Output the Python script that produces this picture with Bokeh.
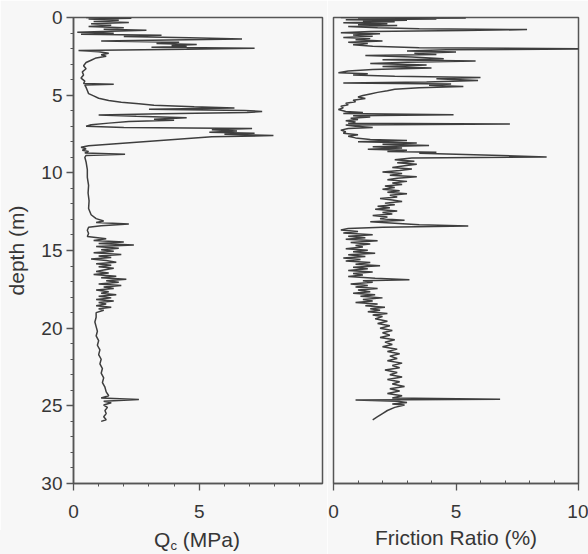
from bokeh.plotting import figure
from bokeh.models import Range1d, FixedTicker, Div
from bokeh.layouts import row, column
from bokeh.embed import file_html
from bokeh.resources import INLINE

# ---------------- data ----------------
qc_depth = [
    0.00, 0.05, 0.10, 0.18, 0.25, 0.32, 0.40, 0.50, 0.58, 0.66,
    0.75, 0.82, 0.88, 0.95, 1.02, 1.08, 1.15, 1.22, 1.30, 1.38,
    1.45, 1.52, 1.60, 1.68, 1.74, 1.80, 1.86, 1.92, 1.98, 2.05,
    2.12, 2.20, 2.30, 2.40, 2.50, 2.60, 2.75, 2.90, 3.10, 3.30,
    3.50, 3.70, 3.90, 4.10, 4.25, 4.30, 4.35, 4.50, 4.70, 4.90,
    5.05, 5.20, 5.35, 5.45, 5.55, 5.65, 5.75, 5.82, 5.90, 5.98,
    6.05, 6.12, 6.20, 6.28, 6.36, 6.45, 6.55, 6.62, 6.70, 6.80,
    6.90, 7.00, 7.08, 7.15, 7.22, 7.30, 7.38, 7.45, 7.52, 7.60,
    7.68, 8.25, 8.35, 8.45, 8.55, 8.62, 8.72, 8.80, 8.88, 9.00,
    9.30, 9.80, 10.3, 10.8, 11.3, 11.8, 12.3, 12.7, 12.95, 13.1,
    13.2, 13.3, 13.4, 13.5, 13.7, 13.9, 14.1, 14.25, 14.35, 14.45,
    14.55, 14.65, 14.75, 14.85, 14.95, 15.05, 15.15, 15.25, 15.35, 15.45,
    15.55, 15.65, 15.75, 15.85, 15.95, 16.05, 16.15, 16.25, 16.35, 16.45,
    16.55, 16.65, 16.75, 16.85, 16.95, 17.05, 17.15, 17.25, 17.35, 17.45,
    17.55, 17.65, 17.75, 17.85, 17.95, 18.05, 18.15, 18.25, 18.35, 18.45,
    18.55, 18.65, 18.75, 18.85, 19.0, 19.3, 19.6, 19.9, 20.2, 20.5,
    20.8, 21.1, 21.4, 21.7, 22.0, 22.3, 22.6, 22.9, 23.2, 23.5,
    23.8, 24.1, 24.35, 24.5, 24.6, 24.7, 24.8, 24.95, 25.1, 25.3,
    25.5, 25.7, 25.9, 26.0]
qc_value = [
    0.5, 2.3, 0.6, 1.8, 0.8, 2.2, 0.7, 1.5, 0.6, 2.0,
    1.2, 2.9, 1.5, 0.15, 1.6, 0.3, 3.5, 2.0, 4.6, 6.7,
    3.8, 1.1, 4.2, 3.3, 4.9, 3.9, 4.5, 3.1, 7.2, 4.5,
    0.2, 1.0, 1.4, 1.1, 1.3, 0.9, 0.7, 0.5, 0.4, 0.5,
    0.35, 0.4, 0.3, 0.45, 0.4, 1.6, 0.45, 0.5, 0.55, 0.6,
    0.8, 1.0, 1.4, 1.9, 2.6, 3.2, 4.8, 6.4, 3.0, 6.8,
    7.5, 6.9, 3.5, 1.0, 2.5, 4.5, 3.2, 4.0, 2.2, 1.4,
    0.7, 0.5, 2.0, 7.1, 5.5, 6.5, 5.4, 7.2, 6.0, 7.95,
    5.5, 0.6, 0.3, 0.5, 0.35, 0.6, 0.45, 2.05, 0.5, 0.45,
    0.5, 0.55, 0.55, 0.6, 0.58, 0.62, 0.6, 0.7, 0.9, 1.2,
    0.9, 2.2, 1.1, 0.6, 0.55, 0.6, 0.55, 1.3, 0.8, 2.0,
    1.0, 2.4, 0.9, 1.8, 1.1, 1.6, 0.8, 1.9, 1.0, 1.5,
    0.7, 1.3, 1.7, 0.9, 1.5, 1.0, 1.6, 1.2, 0.9, 1.4,
    0.8, 1.7, 1.1, 2.1, 1.3, 1.8, 1.0, 1.9, 1.2, 1.6,
    0.9, 1.4, 1.1, 1.7, 1.0, 1.5, 0.9, 1.6, 1.0, 1.3,
    0.9, 1.5, 1.0, 1.2, 0.9, 0.9, 0.85, 0.9, 0.95, 0.9,
    1.0, 0.95, 1.05, 1.0, 1.1, 1.05, 1.15, 1.1, 1.2, 1.15,
    1.25, 1.3, 1.4, 1.1, 2.6, 1.2, 1.5, 1.2, 1.35, 1.25,
    1.3, 1.2, 1.3, 1.1]

fr_depth = [
    0.00, 0.03, 0.06, 0.10, 0.14, 0.18, 0.22, 0.28, 0.33, 0.40,
    0.46, 0.52, 0.58, 0.66, 0.72, 0.78, 0.84, 0.90, 0.98, 1.05,
    1.12, 1.20, 1.28, 1.36, 1.44, 1.52, 1.60, 1.68, 1.76, 1.85,
    1.95, 2.02, 2.08, 2.15, 2.22, 2.30, 2.38, 2.45, 2.55, 2.65,
    2.72, 2.80, 2.88, 2.96, 3.05, 3.15, 3.25, 3.35, 3.45, 3.55,
    3.62, 3.70, 3.78, 3.86, 3.95, 4.05, 4.15, 4.22, 4.28, 4.36,
    4.44, 4.52, 4.62, 4.72, 4.82, 4.92, 5.02, 5.12, 5.22, 5.32,
    5.42, 5.52, 5.62, 5.72, 5.82, 5.92, 6.05, 6.12, 6.18, 6.26,
    6.32, 6.40, 6.48, 6.56, 6.64, 6.72, 6.80, 6.86, 6.92, 7.00,
    7.08, 7.15, 7.25, 7.35, 7.45, 7.55, 7.65, 7.75, 7.85, 7.92,
    8.00, 8.08, 8.16, 8.24, 8.32, 8.40, 8.48, 8.55, 8.62, 8.68,
    8.74, 8.80, 8.98, 9.05, 9.15, 9.25, 9.35, 9.45, 9.55, 9.65,
    9.75, 9.85, 9.95, 10.05, 10.15, 10.25, 10.35, 10.45, 10.55, 10.65,
    10.75, 10.85, 10.95, 11.05, 11.15, 11.25, 11.35, 11.45, 11.55, 11.65,
    11.75, 11.85, 11.95, 12.05, 12.15, 12.25, 12.35, 12.45, 12.55, 12.65,
    12.75, 12.85, 12.95, 13.05, 13.15, 13.25, 13.35, 13.42, 13.50, 13.58,
    13.68, 13.78, 13.88, 13.98, 14.08, 14.18, 14.28, 14.38, 14.48, 14.58,
    14.68, 14.78, 14.88, 14.98, 15.08, 15.18, 15.28, 15.38, 15.48, 15.58,
    15.68, 15.78, 15.88, 15.98, 16.08, 16.18, 16.28, 16.38, 16.48, 16.58,
    16.68, 16.78, 16.88, 16.95, 17.05, 17.15, 17.25, 17.35, 17.45, 17.55,
    17.65, 17.75, 17.85, 17.95, 18.05, 18.15, 18.25, 18.35, 18.45, 18.55,
    18.65, 18.75, 18.85, 18.95, 19.05, 19.15, 19.25, 19.40, 19.55, 19.70,
    19.85, 20.00, 20.15, 20.30, 20.45, 20.60, 20.75, 20.90, 21.05, 21.20,
    21.35, 21.50, 21.65, 21.80, 21.95, 22.10, 22.25, 22.40, 22.55, 22.70,
    22.85, 23.00, 23.15, 23.30, 23.45, 23.60, 23.75, 23.90, 24.05, 24.20,
    24.35, 24.50, 24.58, 24.62, 24.70, 24.78, 24.88, 24.95, 25.10, 25.30,
    25.50, 25.70, 25.90]
fr_value = [
    0.3, 5.4, 1.0, 4.2, 0.5, 3.0, 1.2, 2.5, 0.4, 2.2,
    1.0, 2.6, 0.6, 1.8, 3.5, 7.9, 5.3, 1.5, 0.3, 1.9,
    0.8, 1.6, 0.4, 1.5, 0.9, 2.0, 0.6, 1.4, 0.8, 1.6,
    3.5, 10.5, 4.6, 3.0, 5.0, 3.3, 4.2, 1.3, 3.2, 4.5,
    2.0, 5.8, 3.0, 1.5, 3.8, 2.0, 4.0, 1.6, 0.6, 0.2,
    1.4, 0.8, 2.5, 6.0, 4.2, 5.9, 3.8, 0.4, 4.8, 3.9,
    5.3, 3.5, 2.5, 2.2, 1.8, 1.5, 1.2, 1.0, 1.3, 0.8,
    0.9, 0.5, 0.6, 0.3, 0.4, 0.2, 0.5, 1.2, 0.4, 4.9,
    0.8, 1.5, 0.7, 1.0, 0.5, 0.9, 0.6, 7.2, 0.5, 0.9,
    1.6, 0.6, 0.3, 0.5, 0.4, 1.0, 0.6, 0.9, 1.5, 3.0,
    1.0, 3.4, 2.0, 3.9, 1.6, 2.8, 1.4, 3.0, 2.2, 4.2,
    3.5, 5.0, 8.7, 3.2, 2.5, 3.3, 2.6, 3.4, 2.9, 2.4,
    3.2, 2.7, 2.0, 2.8, 2.3, 3.4, 2.6, 2.2, 3.0, 2.4,
    2.8, 2.1, 2.5, 2.0, 2.7, 2.2, 3.0, 2.3, 2.6, 1.9,
    2.4, 2.8, 2.1, 2.5, 1.8, 2.3, 1.7, 2.6, 2.0, 2.4,
    1.6, 2.2, 1.9, 2.9, 1.5, 2.5, 3.5, 5.5, 2.0, 0.6,
    0.3, 1.0, 0.4, 1.6, 0.6, 1.3, 0.5, 1.8, 0.7, 1.5,
    0.9, 1.2, 0.5, 1.4, 0.8, 1.7, 0.6, 1.3, 0.4, 1.1,
    0.5, 1.5, 0.9, 1.9, 0.8, 1.4, 0.6, 1.6, 0.8, 1.2,
    0.6, 1.7, 3.1, 1.2, 1.6, 0.7, 1.4, 0.9, 1.8, 1.0,
    1.5, 0.8, 1.7, 1.1, 2.0, 1.2, 1.6, 0.9, 1.8, 1.3,
    2.1, 1.5, 1.9, 1.4, 2.2, 1.6, 2.0, 1.7, 2.2, 1.8,
    2.3, 1.9, 2.4, 2.0, 2.3, 1.9, 2.5, 2.1, 2.4, 2.0,
    2.6, 2.2, 2.7, 2.3, 2.6, 2.2, 2.8, 2.4, 2.7, 2.1,
    2.6, 2.3, 2.8, 2.2, 2.7, 2.4, 2.9, 2.3, 2.7, 2.2,
    2.8, 2.4, 6.8, 0.9, 2.6, 3.0, 2.4, 2.9, 2.5, 2.2,
    2.0, 1.8, 1.6]

depth_ticks = [0, 5, 10, 15, 20, 25, 30]
depth_minor = list(range(0, 31))
qc_ticks = [0, 5]
qc_minor = [1, 2, 3, 4, 6, 7, 8, 9]
fr_ticks = [0, 5, 10]
fr_minor = [1, 2, 3, 4, 6, 7, 8, 9]

depth_label = "depth (m)"
fr_label = "Friction Ratio (%)"

# ---------------- styling ----------------
BG = "#f7f7f7"
INK = "#555555"
TXT = "#363636"
TRACE = "#3e3e3e"
FONT = "Liberation Sans"


def style(p):
    p.background_fill_color = BG
    p.border_fill_color = BG
    p.outline_line_color = INK
    p.outline_line_width = 1.5
    p.grid.visible = False
    for ax in p.axis:
        ax.axis_line_color = INK
        ax.axis_line_width = 1.5
        ax.major_tick_line_color = INK
        ax.major_tick_line_width = 1.3
        ax.minor_tick_line_color = INK
        ax.minor_tick_line_width = 1
        ax.major_label_text_font = FONT
        ax.major_label_text_font_size = "19px"
        ax.major_label_text_color = TXT
        ax.axis_label_text_font = FONT
        ax.axis_label_text_font_size = "21px"
        ax.axis_label_text_font_style = "normal"
        ax.axis_label_text_color = TXT


y_range = Range1d(30, 0)

p1 = figure(width=327, height=530, x_range=Range1d(0, 9.9), y_range=y_range,
            output_backend="svg", toolbar_location=None,
            min_border_left=73, min_border_right=5, min_border_top=17, min_border_bottom=47)
style(p1)
p1.line(qc_value, qc_depth, line_color=TRACE, line_width=1.5)
p1.xaxis.ticker = FixedTicker(ticks=qc_ticks, minor_ticks=qc_minor)
p1.yaxis.ticker = FixedTicker(ticks=depth_ticks, minor_ticks=depth_minor)
p1.yaxis.axis_label = depth_label
p1.yaxis.axis_label_standoff = 10
p1.yaxis.major_tick_out = 7
p1.yaxis.major_tick_in = 0
p1.yaxis.minor_tick_out = 3
p1.yaxis.minor_tick_in = 0
p1.yaxis.major_label_standoff = 4
p1.xaxis.major_tick_out = 7
p1.xaxis.major_tick_in = 0
p1.xaxis.minor_tick_out = 3
p1.xaxis.minor_tick_in = 0
p1.xaxis.major_label_standoff = 14

# x-axis title "Q_c (MPa)" with a real subscript, as HTML text below the left panel
qc_title = Div(
    text=('<div style="box-sizing:border-box;width:327px;height:24px;padding-left:67px;'
          'text-align:center;font-family:\'Liberation Sans\';font-size:21px;line-height:20px;'
          'color:%s;background:%s;">Q<span style="font-size:13px;position:relative;top:3px;">'
          'c</span> (MPa)</div>') % (TXT, BG),
    width=327, height=24, margin=(0, 0, 0, 0),
    styles={"background-color": BG},
)

p2 = figure(width=261, height=554, x_range=Range1d(0, 10), y_range=y_range,
            output_backend="svg", toolbar_location=None,
            min_border_left=6, min_border_right=10, min_border_top=17, min_border_bottom=71)
style(p2)
p2.line(fr_value, fr_depth, line_color=TRACE, line_width=1.5)
p2.xaxis.ticker = FixedTicker(ticks=fr_ticks, minor_ticks=fr_minor)
p2.xaxis.axis_label = fr_label
p2.xaxis.axis_label_standoff = 5
p2.xaxis.major_tick_out = 7
p2.xaxis.major_tick_in = 0
p2.xaxis.minor_tick_out = 0
p2.xaxis.minor_tick_in = 3
p2.xaxis.major_label_standoff = 14
p2.yaxis.visible = False

layout = row(column(p1, qc_title, spacing=0), p2, spacing=0)

open("out.html", "w").write(file_html(layout, INLINE))
